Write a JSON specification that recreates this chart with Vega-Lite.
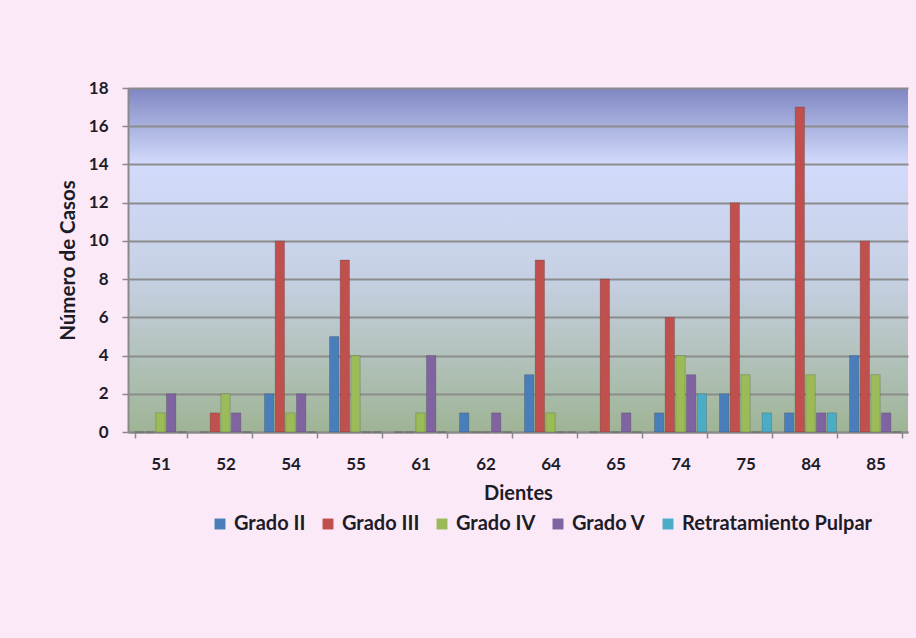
{
  "$schema": "https://vega.github.io/schema/vega-lite/v6.json",
  "autosize": {"type": "none"},
  "width": 780,
  "height": 344,
  "padding": {"left": 128, "top": 88, "right": 8, "bottom": 206},
  "background": "#fce9f7",
  "data": {
    "values": [
      {"diente": "51", "grado": "Grado II", "casos": 0},
      {"diente": "51", "grado": "Grado III", "casos": 0},
      {"diente": "51", "grado": "Grado IV", "casos": 1},
      {"diente": "51", "grado": "Grado V", "casos": 2},
      {"diente": "51", "grado": "Retratamiento Pulpar", "casos": 0},
      {"diente": "52", "grado": "Grado II", "casos": 0},
      {"diente": "52", "grado": "Grado III", "casos": 1},
      {"diente": "52", "grado": "Grado IV", "casos": 2},
      {"diente": "52", "grado": "Grado V", "casos": 1},
      {"diente": "52", "grado": "Retratamiento Pulpar", "casos": 0},
      {"diente": "54", "grado": "Grado II", "casos": 2},
      {"diente": "54", "grado": "Grado III", "casos": 10},
      {"diente": "54", "grado": "Grado IV", "casos": 1},
      {"diente": "54", "grado": "Grado V", "casos": 2},
      {"diente": "54", "grado": "Retratamiento Pulpar", "casos": 0},
      {"diente": "55", "grado": "Grado II", "casos": 5},
      {"diente": "55", "grado": "Grado III", "casos": 9},
      {"diente": "55", "grado": "Grado IV", "casos": 4},
      {"diente": "55", "grado": "Grado V", "casos": 0},
      {"diente": "55", "grado": "Retratamiento Pulpar", "casos": 0},
      {"diente": "61", "grado": "Grado II", "casos": 0},
      {"diente": "61", "grado": "Grado III", "casos": 0},
      {"diente": "61", "grado": "Grado IV", "casos": 1},
      {"diente": "61", "grado": "Grado V", "casos": 4},
      {"diente": "61", "grado": "Retratamiento Pulpar", "casos": 0},
      {"diente": "62", "grado": "Grado II", "casos": 1},
      {"diente": "62", "grado": "Grado III", "casos": 0},
      {"diente": "62", "grado": "Grado IV", "casos": 0},
      {"diente": "62", "grado": "Grado V", "casos": 1},
      {"diente": "62", "grado": "Retratamiento Pulpar", "casos": 0},
      {"diente": "64", "grado": "Grado II", "casos": 3},
      {"diente": "64", "grado": "Grado III", "casos": 9},
      {"diente": "64", "grado": "Grado IV", "casos": 1},
      {"diente": "64", "grado": "Grado V", "casos": 0},
      {"diente": "64", "grado": "Retratamiento Pulpar", "casos": 0},
      {"diente": "65", "grado": "Grado II", "casos": 0},
      {"diente": "65", "grado": "Grado III", "casos": 8},
      {"diente": "65", "grado": "Grado IV", "casos": 0},
      {"diente": "65", "grado": "Grado V", "casos": 1},
      {"diente": "65", "grado": "Retratamiento Pulpar", "casos": 0},
      {"diente": "74", "grado": "Grado II", "casos": 1},
      {"diente": "74", "grado": "Grado III", "casos": 6},
      {"diente": "74", "grado": "Grado IV", "casos": 4},
      {"diente": "74", "grado": "Grado V", "casos": 3},
      {"diente": "74", "grado": "Retratamiento Pulpar", "casos": 2},
      {"diente": "75", "grado": "Grado II", "casos": 2},
      {"diente": "75", "grado": "Grado III", "casos": 12},
      {"diente": "75", "grado": "Grado IV", "casos": 3},
      {"diente": "75", "grado": "Grado V", "casos": 0},
      {"diente": "75", "grado": "Retratamiento Pulpar", "casos": 1},
      {"diente": "84", "grado": "Grado II", "casos": 1},
      {"diente": "84", "grado": "Grado III", "casos": 17},
      {"diente": "84", "grado": "Grado IV", "casos": 3},
      {"diente": "84", "grado": "Grado V", "casos": 1},
      {"diente": "84", "grado": "Retratamiento Pulpar", "casos": 1},
      {"diente": "85", "grado": "Grado II", "casos": 4},
      {"diente": "85", "grado": "Grado III", "casos": 10},
      {"diente": "85", "grado": "Grado IV", "casos": 3},
      {"diente": "85", "grado": "Grado V", "casos": 1},
      {"diente": "85", "grado": "Retratamiento Pulpar", "casos": 0}
    ]
  },
  "mark": {"type": "bar", "strokeWidth": 0.8, "stroke": "#00000033"},
  "encoding": {
    "x": {
      "field": "diente",
      "type": "nominal",
      "title": "Dientes",
      "scale": {"paddingInner": 0.2, "paddingOuter": 0.1},
      "axis": {"labelAngle": 0, "labelPadding": 18, "titlePadding": 11, "tickBand": "extent", "tickSize": 6}
    },
    "xOffset": {
      "field": "grado",
      "type": "nominal",
      "sort": ["Grado II", "Grado III", "Grado IV", "Grado V", "Retratamiento Pulpar"],
      "scale": {"paddingInner": 0.12}
    },
    "y": {
      "field": "casos",
      "type": "quantitative",
      "title": "Número de Casos",
      "scale": {"domain": [0, 18], "nice": false},
      "axis": {"values": [0, 2, 4, 6, 8, 10, 12, 14, 16, 18], "labelPadding": 14, "titlePadding": 10, "tickSize": 6}
    },
    "color": {
      "field": "grado",
      "type": "nominal",
      "sort": ["Grado II", "Grado III", "Grado IV", "Grado V", "Retratamiento Pulpar"],
      "scale": {
        "domain": ["Grado II", "Grado III", "Grado IV", "Grado V", "Retratamiento Pulpar"],
        "range": ["#4a7ebb", "#c0504d", "#9bbb59", "#8064a2", "#4bacc6"]
      },
      "legend": {
        "title": null,
        "orient": "none",
        "direction": "horizontal",
        "legendX": 82,
        "legendY": 426,
        "symbolType": "square",
        "symbolSize": 120,
        "symbolStrokeWidth": 0,
        "columnPadding": 12,
        "labelOffset": 4,
        "labelLimit": 400
      }
    }
  },
  "config": {
    "font": "Lato",
    "view": {
      "stroke": null,
      "fill": {
        "gradient": "linear",
        "x1": 0, "y1": 0, "x2": 0, "y2": 1,
        "stops": [
          {"offset": 0, "color": "#7f86c2"},
          {"offset": 0.22, "color": "#d2dbfb"},
          {"offset": 0.55, "color": "#c6d0e4"},
          {"offset": 1, "color": "#9fb495"}
        ]
      }
    },
    "axis": {
      "labelFont": "Lato",
      "labelFontWeight": "bold",
      "labelFontSize": 17,
      "labelColor": "#1c1c28",
      "titleFont": "Lato",
      "titleFontWeight": "bold",
      "titleFontSize": 20,
      "titleColor": "#1c1c28",
      "domainColor": "#8a8a8a",
      "domainWidth": 2,
      "tickColor": "#8a8a8a",
      "tickWidth": 1.5,
      "gridColor": "#8c8c8c",
      "gridWidth": 2
    },
    "axisY": {"titleFontSize": 20.5},
    "axisX": {"grid": false},
    "legend": {
      "labelFont": "Lato",
      "labelFontWeight": "bold",
      "labelFontSize": 20,
      "labelColor": "#1c1c28"
    }
  }
}
